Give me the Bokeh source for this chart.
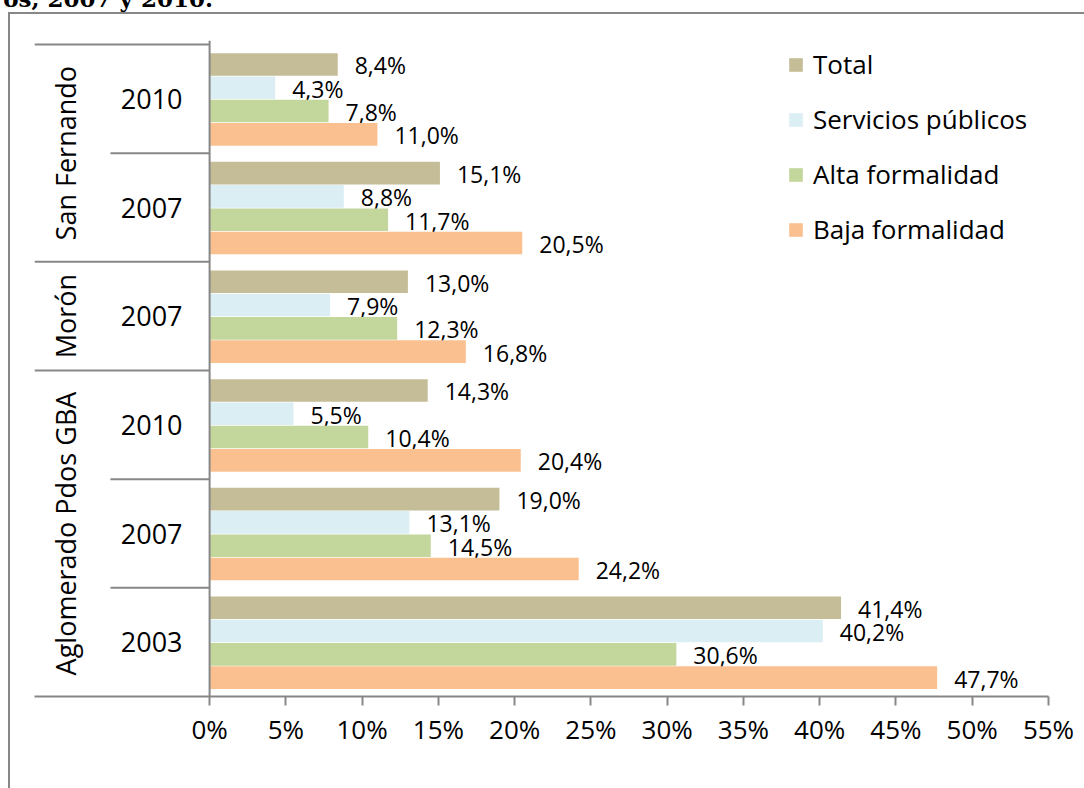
import math
from bokeh.plotting import figure
from bokeh.layouts import column
from bokeh.models import (Range1d, FixedTicker, PrintfTickFormatter, ColumnDataSource,
                          Legend, LegendItem, Div)
from bokeh.core.properties import value
from bokeh.embed import file_html
from bokeh.resources import INLINE

# ---- data ----
locations = ["San Fernando", "San Fernando", "Morón",
             "Aglomerado Pdos GBA", "Aglomerado Pdos GBA", "Aglomerado Pdos GBA"]
years = ["2010", "2007", "2007", "2010", "2007", "2003"]
series = ["Total", "Servicios públicos", "Alta formalidad", "Baja formalidad"]
total = [8.4, 15.1, 13.0, 14.3, 19.0, 41.4]
servicios = [4.3, 8.8, 7.9, 5.5, 13.1, 40.2]
alta = [7.8, 11.7, 12.3, 10.4, 14.5, 30.6]
baja = [11.0, 20.5, 16.8, 20.4, 24.2, 47.7]
colors = ["#C4BD97", "#DBEEF4", "#C3D69B", "#FAC090"]
x_ticks = [0, 5, 10, 15, 20, 25, 30, 35, 40, 45, 50, 55]
title_text = "os, 2007 y 2010."

FONT = value("Open Sans")
GRAY = "#878787"
W, H = 1084, 788

# ---- background sheet: outer chart border and the (cut) document caption ----
bg_html = (
    f'<div style="position:relative;width:{W}px;height:{H}px;overflow:hidden;'
    f'margin:0;padding:0;">'
    f'<div style="position:absolute;left:8px;top:12px;width:{W + 50}px;height:{H + 50}px;'
    f'border-left:2px solid {GRAY};border-top:2px solid {GRAY};"></div>'
    f'<div style="position:absolute;right:{W - 213}px;top:-13px;'
    f"font-family:'DejaVu Serif';font-weight:bold;font-size:23px;line-height:23px;"
    f'white-space:nowrap;color:black;">{title_text}</div>'
    f'</div>'
)
bg = Div(text=bg_html, width=W, height=H, margin=(0, 0, 0, 0))

# ---- main chart ----
p = figure(width=W, height=H, output_backend="svg", toolbar_location=None,
           x_range=Range1d(-11.48, 55), y_range=Range1d(6, -0.037),
           y_axis_location=None, min_border_left=34, min_border_right=36,
           min_border_top=40, min_border_bottom=92, outline_line_color=None,
           background_fill_color=None, border_fill_color=None,
           margin=(-H, 0, 0, 0))
p.xgrid.visible = False
p.ygrid.visible = False

ax = p.xaxis[0]
ax.ticker = FixedTicker(ticks=x_ticks)
ax.formatter = PrintfTickFormatter(format="%d%%")
ax.axis_line_color = GRAY
ax.axis_line_width = 2
ax.major_tick_line_color = GRAY
ax.major_tick_line_width = 2
ax.major_tick_out = 9
ax.major_tick_in = 0
ax.minor_tick_line_color = None
ax.major_label_text_font = "Open Sans"
ax.major_label_text_font_size = "26px"
ax.major_label_text_color = "black"
ax.major_label_standoff = 5

n = len(years)
bw = 0.2144
vals_all = [total, servicios, alta, baja]
items = []
for j, (name, vals, col) in enumerate(zip(series, vals_all, colors)):
    ys = [k + 0.5 + (j - 1.5) * bw + 0.005 for k in range(n)]
    src = ColumnDataSource(dict(
        y=ys, v=vals, lab=[f"{v:.1f}%".replace(".", ",") for v in vals]))
    r = p.hbar(y="y", left=0, right="v", height=bw * 0.97, source=src,
               fill_color=col, line_color=None)
    p.text(x="v", y="y", text="lab", source=src, x_offset=17, y_offset=1,
           text_align="left", text_baseline="middle", text_font=FONT,
           text_font_size="23px", text_color="black")
    items.append(LegendItem(label=name, renderers=[r]))

# category labels
p.text(x=[-3.8] * n, y=[k + 0.5 for k in range(n)], text=years,
       text_align="center", text_baseline="middle", text_font=FONT,
       text_font_size="27px", text_color="black")
groups = []
for k, loc in enumerate(locations):
    if groups and groups[-1][0] == loc:
        groups[-1][2] = k + 1
    else:
        groups.append([loc, k, k + 1])
p.text(x=[-9.44] * len(groups), y=[(g[1] + g[2]) / 2 for g in groups],
       text=[g[0] for g in groups], angle=math.pi / 2, text_align="center",
       text_baseline="middle", text_font=FONT, text_font_size="27px",
       text_color="black")

# separators
x0s, y0s = [], []
for b in range(n):
    full = b == 0 or locations[b] != locations[b - 1]
    x0s.append(-11.48 if full else -6.5)
    y0s.append(b)
p.segment(x0=x0s, y0=y0s, x1=[0] * n, y1=y0s, line_color=GRAY, line_width=2)
p.segment(x0=[0], y0=[-0.037], x1=[0], y1=[6], line_color=GRAY, line_width=2)

legend = Legend(items=items, location=(753, 449), glyph_width=17, glyph_height=17,
                label_standoff=9, spacing=19, padding=0, margin=0,
                background_fill_alpha=0, border_line_color=None,
                label_text_font="Open Sans", label_text_font_size="26px",
                label_text_color="black")
p.add_layout(legend)

layout = column(bg, p, margin=(0, 0, 0, 0))
open("out.html", "w").write(file_html(layout, INLINE))
